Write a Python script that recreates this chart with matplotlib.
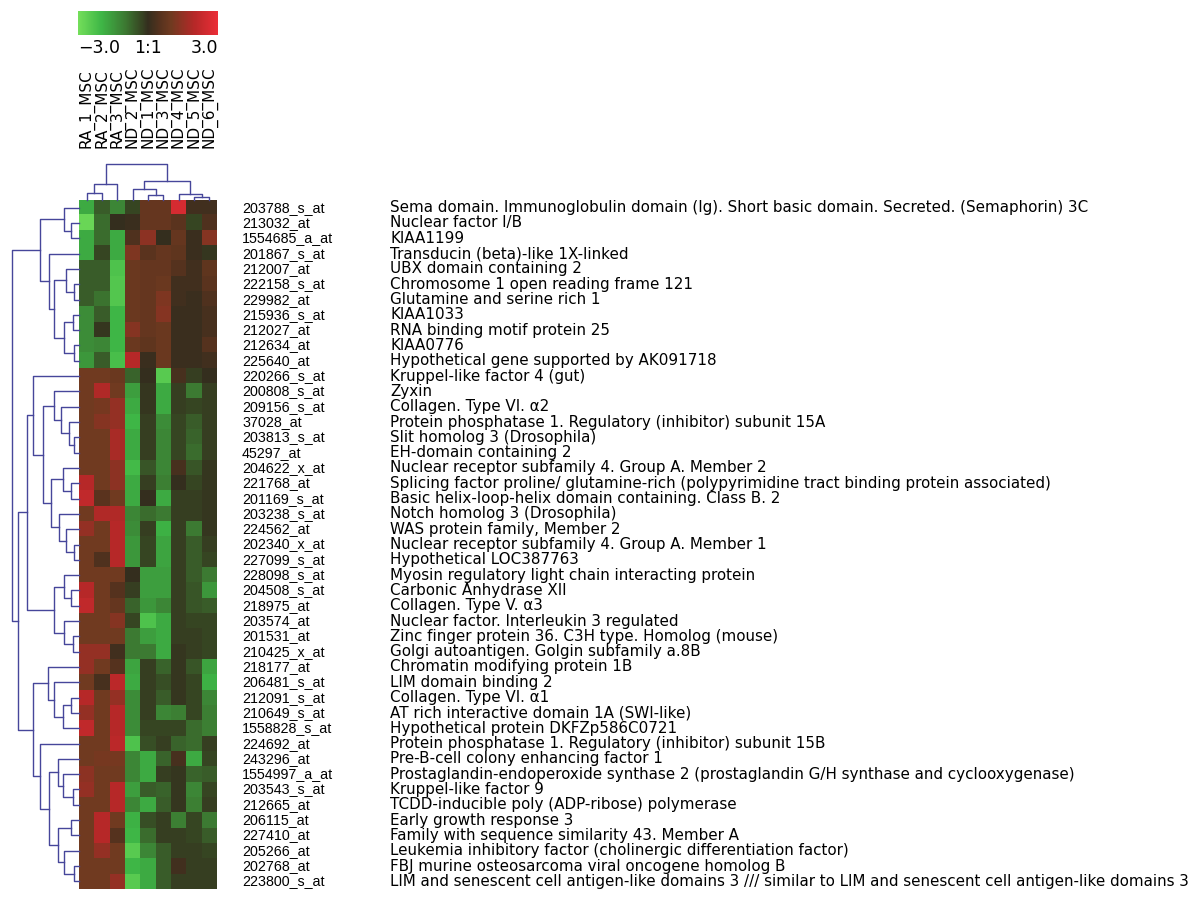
import numpy as np
import matplotlib

matplotlib.use("Agg")
import matplotlib.pyplot as plt
from matplotlib.cm import ScalarMappable
from matplotlib.colors import LinearSegmentedColormap, Normalize
from matplotlib.transforms import blended_transform_factory

samples = ["RA_1_MSC", "RA_2_MSC", "RA_3_MSC", "ND_2_MSC", "ND_1_MSC",
           "ND_3_MSC", "ND_4_MSC", "ND_5_MSC", "ND_6_MSC"]

probe_ids = [
    "203788_s_at", "213032_at", "1554685_a_at", "201867_s_at", "212007_at",
    "222158_s_at", "229982_at", "215936_s_at", "212027_at", "212634_at",
    "225640_at", "220266_s_at", "200808_s_at", "209156_s_at", "37028_at",
    "203813_s_at", "45297_at", "204622_x_at", "221768_at", "201169_s_at",
    "203238_s_at", "224562_at", "202340_x_at", "227099_s_at", "228098_s_at",
    "204508_s_at", "218975_at", "203574_at", "201531_at", "210425_x_at",
    "218177_at", "206481_s_at", "212091_s_at", "210649_s_at", "1558828_s_at",
    "224692_at", "243296_at", "1554997_a_at", "203543_s_at", "212665_at",
    "206115_at", "227410_at", "205266_at", "202768_at", "223800_s_at",
]

gene_names = [
    "Sema domain. Immunoglobulin domain (Ig). Short basic domain. Secreted. (Semaphorin) 3C",
    "Nuclear factor I/B",
    "KIAA1199",
    "Transducin (beta)-like 1X-linked",
    "UBX domain containing 2",
    "Chromosome 1 open reading frame 121",
    "Glutamine and serine rich 1",
    "KIAA1033",
    "RNA binding motif protein 25",
    "KIAA0776",
    "Hypothetical gene supported by AK091718",
    "Kruppel-like factor 4 (gut)",
    "Zyxin",
    "Collagen. Type VI. \u03b12",
    "Protein phosphatase 1. Regulatory (inhibitor) subunit 15A",
    "Slit homolog 3 (Drosophila)",
    "EH-domain containing 2",
    "Nuclear receptor subfamily 4. Group A. Member 2",
    "Splicing factor proline/ glutamine-rich (polypyrimidine tract binding protein associated)",
    "Basic helix-loop-helix domain containing. Class B. 2",
    "Notch homolog 3 (Drosophila)",
    "WAS protein family, Member 2",
    "Nuclear receptor subfamily 4. Group A. Member 1",
    "Hypothetical LOC387763",
    "Myosin regulatory light chain interacting protein",
    "Carbonic Anhydrase XII",
    "Collagen. Type V. \u03b13",
    "Nuclear factor. Interleukin 3 regulated",
    "Zinc finger protein 36. C3H type. Homolog (mouse)",
    "Golgi autoantigen. Golgin subfamily a.8B",
    "Chromatin modifying protein 1B",
    "LIM domain binding 2",
    "Collagen. Type VI. \u03b11",
    "AT rich interactive domain 1A (SWI-like)",
    "Hypothetical protein DKFZp586C0721",
    "Protein phosphatase 1. Regulatory (inhibitor) subunit 15B",
    "Pre-B-cell colony enhancing factor 1",
    "Prostaglandin-endoperoxide synthase 2 (prostaglandin G/H synthase and cyclooxygenase)",
    "Kruppel-like factor 9",
    "TCDD-inducible poly (ADP-ribose) polymerase",
    "Early growth response 3",
    "Family with sequence similarity 43. Member A",
    "Leukemia inhibitory factor (cholinergic differentiation factor)",
    "FBJ murine osteosarcoma viral oncogene homolog B",
    "LIM and senescent cell antigen-like domains 3 /// similar to LIM and senescent cell antigen-like domains 3",
]

# log ratio per probe, columns in the order of `samples`
log_ratio = [
    [-1.8, -0.6, -1.2, -0.3, 0.8, 0.8, 2.6, 0.2, 0.2],
    [-2.8, -0.8, 0.0, 0.1, 0.8, 0.8, 0.6, -0.3, 0.4],
    [-1.8, -0.8, -1.8, 0.4, 1.4, 0.0, 0.8, 0.1, 1.3],
    [-1.8, -0.3, -1.8, 1.2, 0.6, 0.8, 0.7, 0.1, -0.1],
    [-0.6, -0.6, -2.3, 0.9, 0.8, 0.8, 0.5, 0.2, 0.7],
    [-0.6, -0.6, -2.4, 0.9, 0.8, 0.9, 0.2, 0.2, 0.6],
    [-0.6, -0.9, -2.4, 0.9, 0.8, 1.2, 0.2, 0.1, 0.4],
    [-1.3, -0.6, -2.0, 0.9, 0.8, 1.3, 0.1, 0.1, 0.3],
    [-1.3, -0.1, -2.0, 1.3, 0.8, 0.9, 0.1, 0.1, 0.3],
    [-1.3, -1.2, -2.0, 0.9, 0.7, 0.9, 0.1, 0.1, 0.5],
    [-1.5, -0.6, -2.2, 2.0, 0.1, 0.9, 0.1, 0.1, 0.2],
    [1.0, 1.0, 0.9, -0.7, 0.0, -2.5, 0.3, -0.2, 0.0],
    [1.0, 1.9, 1.0, -1.6, -0.1, -1.8, -0.2, -1.0, -0.2],
    [1.0, 1.1, 1.5, -1.8, -0.1, -1.8, -0.2, -0.3, -0.2],
    [1.0, 1.3, 1.5, -2.0, -0.2, -1.3, -0.3, -0.6, -0.2],
    [1.0, 1.0, 1.8, -1.8, -0.2, -1.2, -0.3, -0.7, -0.2],
    [1.0, 1.0, 1.8, -1.8, -0.2, -1.2, -0.3, -0.8, -0.2],
    [1.0, 1.0, 1.4, -2.1, -0.5, -1.2, 0.3, -0.5, -0.1],
    [2.0, 1.0, 1.4, -1.8, -0.2, -1.1, 0.0, -0.3, -0.1],
    [2.2, 0.6, 1.0, -1.8, 0.0, -1.8, -0.2, -0.2, -0.1],
    [1.0, 1.9, 1.9, -1.2, -0.8, -1.0, -0.2, -0.2, -0.1],
    [1.5, 1.0, 2.0, -1.3, -0.2, -1.9, -0.2, -1.0, -0.1],
    [1.0, 1.0, 2.0, -1.5, -0.3, -1.7, -0.2, -0.6, -0.2],
    [1.0, 0.4, 2.0, -1.5, -0.3, -1.7, -0.2, -0.6, -0.3],
    [1.0, 1.0, 1.0, 0.0, -1.6, -1.6, -0.2, -0.6, -1.0],
    [2.0, 1.0, 0.5, -0.2, -1.6, -1.6, -0.2, -0.5, -1.5],
    [2.2, 1.0, 0.8, -0.7, -1.5, -1.2, -0.2, -0.5, -0.6],
    [1.0, 1.0, 1.3, -0.3, -2.3, -1.8, -0.2, -0.3, -0.3],
    [1.0, 1.0, 1.0, -1.0, -1.6, -1.8, -0.2, -0.2, -0.3],
    [1.5, 1.5, 0.2, -1.0, -1.0, -1.8, -0.1, -0.2, -0.3],
    [1.5, 1.0, 0.5, -1.7, -0.2, -0.7, -0.1, -0.5, -1.7],
    [1.0, 0.3, 2.1, -1.8, -0.2, -0.4, -0.1, -0.3, -1.9],
    [2.0, 1.0, 1.5, -1.3, -0.2, -0.6, -0.1, -0.3, -1.2],
    [1.5, 1.0, 2.0, -1.3, -0.2, -1.2, -1.1, -0.3, -1.1],
    [2.2, 1.0, 2.0, -1.3, -0.3, -0.3, -0.3, -0.8, -1.1],
    [1.0, 1.0, 2.1, -2.3, -0.4, -0.2, -0.7, -0.8, -0.2],
    [1.0, 1.1, 1.1, -1.2, -1.8, -0.7, 0.3, -1.8, -0.3],
    [1.4, 1.0, 1.0, -1.2, -1.8, -0.2, -0.1, -0.7, -0.6],
    [1.5, 1.0, 2.0, -1.6, -0.6, -0.7, -0.1, -1.2, -0.3],
    [1.0, 1.0, 2.0, -1.2, -1.8, -0.6, -0.1, -1.1, -0.2],
    [1.0, 2.0, 1.0, -1.9, -0.4, -0.2, -1.1, -0.3, -1.0],
    [1.0, 2.0, 0.5, -2.0, -0.8, -0.2, -0.2, -0.3, -0.6],
    [1.0, 1.5, 1.0, -2.5, -1.2, -0.6, -0.2, -0.2, -0.3],
    [1.0, 1.0, 1.0, -2.0, -1.8, -0.6, 0.2, -0.2, -0.2],
    [1.0, 1.0, 1.5, -2.5, -1.8, -0.6, -0.2, -0.2, -0.2],
]

# dendrograms as nested (left, right, merge height); leaves are row/column indices
col_tree = (((0, 1, 0.2), 2, 0.44),
            ((3, (4, 5, 0.14), 0.3), (6, (7, 8, 0.08), 0.17), 0.53), 1.0)

row_top = ((0, (1, 2, 0.12), 0.23),
           (3, ((4, (5, 6, 0.08), 0.2), ((7, 8, 0.09), (9, 10, 0.08), 0.23), 0.38), 0.45),
           0.58)
row_mid = ((11, ((12, (13, (14, (15, 16, 0.08), 0.15), 0.27), 0.38),
                 ((17, (18, 19, 0.12), 0.24), (20, (21, (22, 23, 0.08), 0.2), 0.3), 0.42),
                 0.53), 0.68),
           ((24, (25, 26, 0.12), 0.23), (27, (28, 29, 0.09), 0.23), 0.38), 0.77)
row_low = ((30, (31, ((32, 33, 0.12), 34, 0.24), 0.38), 0.47),
           (35, ((36, (37, (38, 39, 0.09), 0.24), 0.32),
                 ((40, 41, 0.12), (42, (43, 44, 0.08), 0.23), 0.32), 0.45), 0.58),
           0.68)
row_tree = (row_top, (row_mid, row_low, 0.91), 1.0)

cbar_ticks = [-3, 0, 3]
cbar_labels = ["\u22123.0", "1:1", "3.0"]

W, H = 1203, 898
LINE = "#46469a"
FONT = "DejaVu Sans"

cmap = LinearSegmentedColormap.from_list("green_black_red", [
    (0.0, (115 / 255, 222 / 255, 90 / 255)),
    (1 / 6, (62 / 255, 182 / 255, 70 / 255)),
    (2 / 6, (60 / 255, 122 / 255, 50 / 255)),
    (2.7 / 6, (55 / 255, 70 / 255, 35 / 255)),
    (3 / 6, (52 / 255, 46 / 255, 30 / 255)),
    (3.5 / 6, (85 / 255, 50 / 255, 30 / 255)),
    (4 / 6, (112 / 255, 58 / 255, 32 / 255)),
    (5 / 6, (182 / 255, 40 / 255, 40 / 255)),
    (1.0, (235 / 255, 45 / 255, 55 / 255)),
])
norm = Normalize(-3, 3)


def px_axes(fig, x0, y0, x1, y1):
    return fig.add_axes([x0 / W, 1 - y1 / H, (x1 - x0) / W, (y1 - y0) / H])


def draw_tree(ax, node, vertical):
    # returns (leaf position, height); draws the U-links
    if not isinstance(node, tuple):
        return float(node), 0.0
    left, right, h = node
    pl, hl = draw_tree(ax, left, vertical)
    pr, hr = draw_tree(ax, right, vertical)
    pos = [pl, pl, pr, pr]
    hts = [hl, h, h, hr]
    if vertical:
        ax.plot(pos, hts, color=LINE, lw=1.0, clip_on=False)
    else:
        ax.plot(hts, pos, color=LINE, lw=1.0, clip_on=False)
    return (pl + pr) / 2, h


fig = plt.figure(figsize=(W / 100, H / 100), dpi=100)

data = np.array(log_ratio)
n_rows, n_cols = data.shape

# heatmap
ax = px_axes(fig, 79, 200, 217, 889)
ax.imshow(data, cmap=cmap, norm=norm, aspect="auto", interpolation="nearest")
ax.set_axis_off()

# row labels: probe id and gene name
tr = blended_transform_factory(fig.transFigure, ax.transData)
for i, (pid, name) in enumerate(zip(probe_ids, gene_names)):
    ax.text(242 / W, i, pid, transform=tr, ha="left", va="center",
            fontsize=10.3, family=["Liberation Sans", "DejaVu Sans"])
    ax.text(390 / W, i, name, transform=tr, ha="left", va="center",
            fontsize=10.9, family=FONT)

# column labels
tc = blended_transform_factory(ax.transData, fig.transFigure)
for j, s in enumerate(samples):
    ax.text(j, 1 - 148 / H, s, transform=tc, rotation=90, ha="center",
            va="bottom", fontsize=11, family=FONT)

# row dendrogram
axr = px_axes(fig, 12, 200, 79, 889)
draw_tree(axr, row_tree, vertical=False)
axr.set_xlim(1.0, 0.0)
axr.set_ylim(n_rows - 0.5, -0.5)
axr.set_axis_off()

# column dendrogram
axc = px_axes(fig, 79, 160, 217, 200)
draw_tree(axc, col_tree, vertical=True)
axc.set_xlim(-0.5, n_cols - 0.5)
axc.set_ylim(0, 40 / 36)
axc.set_axis_off()

# colour key
cax = px_axes(fig, 78, 11, 218, 35)
cb = fig.colorbar(ScalarMappable(norm=norm, cmap=cmap), cax=cax,
                  orientation="horizontal")
cb.outline.set_visible(False)
cb.set_ticks(cbar_ticks)
cb.set_ticklabels(cbar_labels)
cax.tick_params(length=0, pad=3, labelsize=12.5)
for lab, ha in zip(cax.get_xticklabels(), ["left", "center", "right"]):
    lab.set_horizontalalignment(ha)
    lab.set_family(FONT)

fig.savefig("out.png", dpi=100)
